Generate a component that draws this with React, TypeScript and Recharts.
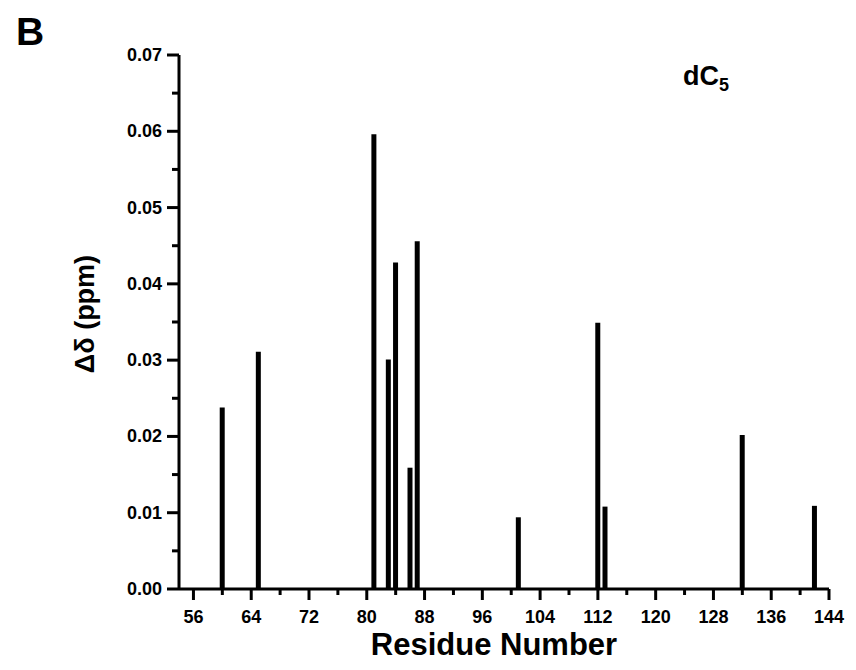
import { BarChart, Bar, XAxis, YAxis } from "recharts";

// residue numbers and chemical shift perturbations (ppm)
const residues = [60, 65, 81, 83, 84, 86, 87, 101, 112, 113, 132, 142];
const shifts = [
  0.0238, 0.0311, 0.0596, 0.0301, 0.0428, 0.0159, 0.0456, 0.0094, 0.0349,
  0.0108, 0.0202, 0.0109,
];

const xTicks = [
  56, 60, 64, 68, 72, 76, 80, 84, 88, 92, 96, 100, 104, 108, 112, 116, 120,
  124, 128, 132, 136, 140, 144,
];
const yTicks = [
  0, 0.005, 0.01, 0.015, 0.02, 0.025, 0.03, 0.035, 0.04, 0.045, 0.05, 0.055,
  0.06, 0.065, 0.07,
];

const data = residues.map((res, i) => ({ res, dd: shifts[i] }));

const FONT = "'Liberation Sans', Arial, sans-serif";

function XTick(props: any) {
  const { x, y, payload } = props;
  const major = (payload.value - 56) % 8 === 0;
  return (
    <g>
      <line x1={x} x2={x} y1={y} y2={y + (major ? 11 : 6)} stroke="#000" strokeWidth={3} />
      {major && (
        <text x={x} y={y + 34} textAnchor="middle" fontFamily={FONT} fontWeight="bold" fontSize={18} fill="#000">
          {payload.value}
        </text>
      )}
    </g>
  );
}

function YTick(props: any) {
  const { x, y, payload } = props;
  const major = Math.round(payload.value * 1000) % 10 === 0;
  return (
    <g>
      <line x1={x} x2={x - (major ? 12 : 7)} y1={y} y2={y} stroke="#000" strokeWidth={3} />
      {major && (
        <text x={x - 17} y={y + 6} textAnchor="end" fontFamily={FONT} fontWeight="bold" fontSize={18} fill="#000">
          {payload.value.toFixed(2)}
        </text>
      )}
    </g>
  );
}

export default function App() {
  return (
    <div style={{ position: "absolute", left: 0, top: 0, width: 856, height: 670, background: "#fff" }}>
      <BarChart
        width={856}
        height={670}
        data={data}
        margin={{ top: 55, right: 27, bottom: 0, left: 0 }}
      >
        <XAxis
          dataKey="res"
          type="number"
          domain={[54, 144]}
          ticks={xTicks}
          interval={0}
          height={81}
          tickSize={0}
          tickMargin={0}
          tick={<XTick />}
          axisLine={{ stroke: "#000", strokeWidth: 3 }}
          label={{
            content: (p: any) => (
              <text
                x={p.viewBox.x + p.viewBox.width / 2 - 10}
                y={p.viewBox.y + 66}
                textAnchor="middle"
                fontFamily={FONT}
                fontWeight="bold"
                fontSize={31}
                fill="#000"
              >
                Residue Number
              </text>
            ),
          }}
        />
        <YAxis
          type="number"
          domain={[0, 0.07]}
          ticks={yTicks}
          interval={0}
          width={179}
          tickSize={0}
          tickMargin={0}
          tick={<YTick />}
          axisLine={{ stroke: "#000", strokeWidth: 3 }}
          label={{
            content: (p: any) => {
              const cx = 94;
              const cy = p.viewBox.y + p.viewBox.height / 2 - 8;
              return (
                <text
                  x={cx}
                  y={cy}
                  transform={`rotate(-90, ${cx}, ${cy})`}
                  textAnchor="middle"
                  fontFamily={FONT}
                  fontWeight="bold"
                  fontSize={27}
                  fill="#000"
                >
                  Δδ (ppm)
                </text>
              );
            },
          }}
        />
        <Bar dataKey="dd" fill="#000" barSize={5} isAnimationActive={false} />
      </BarChart>
      <svg width={856} height={670} style={{ position: "absolute", left: 0, top: 0, pointerEvents: "none" }}>
        <text x={16} y={45} fontFamily={FONT} fontWeight="bold" fontSize={39} fill="#000">
          B
        </text>
        <text x={683} y={85} fontFamily={FONT} fontWeight="bold" fontSize={27} fill="#000">
          dC
          <tspan fontSize={18} dy={6}>
            5
          </tspan>
        </text>
      </svg>
    </div>
  );
}
